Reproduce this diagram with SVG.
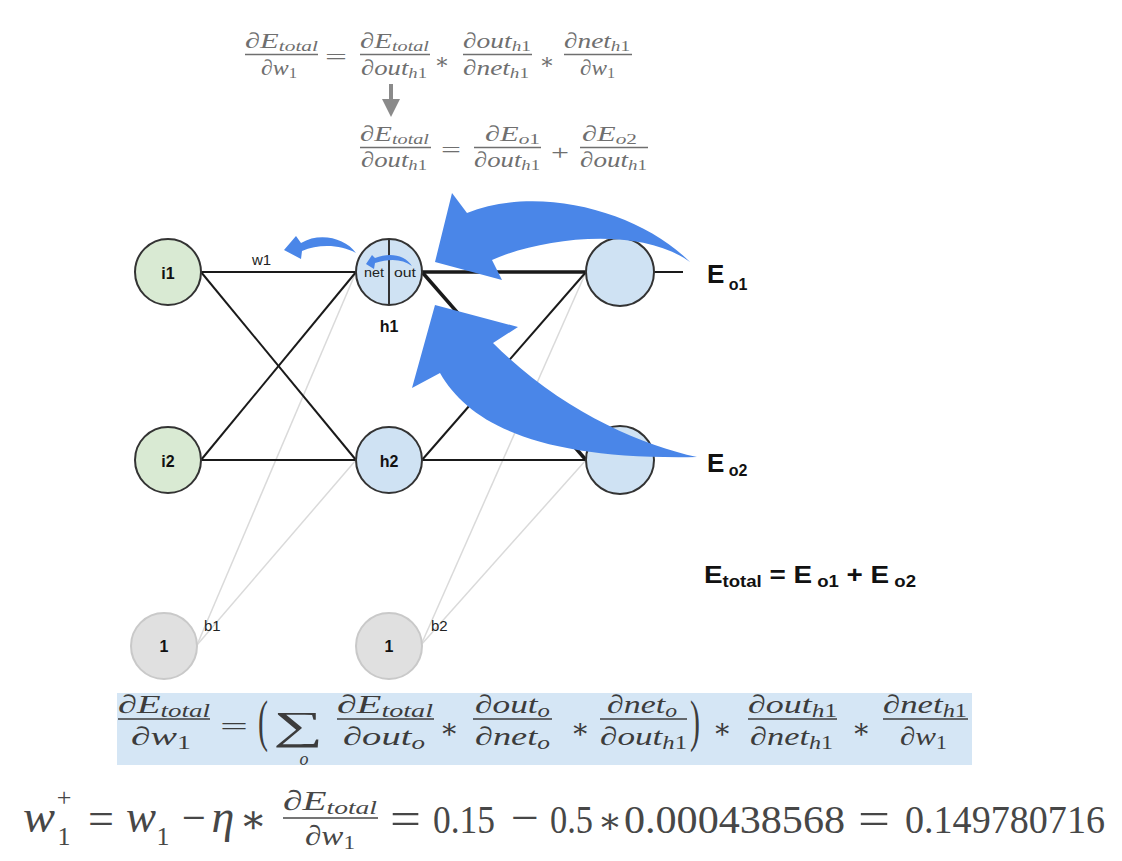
<svg xmlns="http://www.w3.org/2000/svg" width="1122" height="861" viewBox="0 0 1122 861">
<style>
.m{font-family:"Liberation Serif","DejaVu Serif",serif;font-style:italic}
.up{font-style:normal}
.t{fill:#6f6f6f;font-size:22px}
.b{fill:#3c3c3c;font-size:26px}
.z{fill:#474747;font-size:46px}
.d{font-size:40px;font-style:normal}
.s{font-size:70%}
.fl{stroke-width:1.3}
.lbl{font-family:"Liberation Sans",Arial,sans-serif;font-weight:bold;fill:#111}
.sm{font-family:"Liberation Sans",Arial,sans-serif;fill:#222}
.bias{stroke:#dadada;stroke-width:1.5}
.in{fill:#d9ead3;stroke:#333;stroke-width:2}
.hid{fill:#cfe2f3;stroke:#333;stroke-width:2}
.bn{fill:#e0e0e0;stroke:#c9c9c9;stroke-width:2}
.blue{fill:#4a86e8}
</style>

<!-- top formula -->
<g id="formula-top" class="m t">
  <g stroke="#6f6f6f" class="fl">
    <line x1="245" y1="54.5" x2="318" y2="54.5"/>
    <line x1="360" y1="54.5" x2="430" y2="54.5"/>
    <line x1="463" y1="54.5" x2="532" y2="54.5"/>
    <line x1="564" y1="54.5" x2="632" y2="54.5"/>
    <line x1="360" y1="147.5" x2="431" y2="147.5"/>
    <line x1="474" y1="147.5" x2="541" y2="147.5"/>
    <line x1="580" y1="147.5" x2="648" y2="147.5"/>
  </g>
  <text x="245" y="48" textLength="73" lengthAdjust="spacingAndGlyphs">∂E<tspan class="s" dy="3">total</tspan></text>
  <text x="261" y="75" textLength="36" lengthAdjust="spacingAndGlyphs">∂w<tspan class="s up" dy="3">1</tspan></text>
  <text x="325" y="64" class="up" textLength="22" lengthAdjust="spacingAndGlyphs">=</text>
  <text x="360" y="48" textLength="69" lengthAdjust="spacingAndGlyphs">∂E<tspan class="s" dy="3">total</tspan></text>
  <text x="361" y="75" textLength="66" lengthAdjust="spacingAndGlyphs">∂out<tspan class="s" dy="3">h<tspan class="up">1</tspan></tspan></text>
  <text x="442" y="69" class="up" text-anchor="middle">∗</text>
  <text x="463" y="48" textLength="68" lengthAdjust="spacingAndGlyphs">∂out<tspan class="s" dy="3">h<tspan class="up">1</tspan></tspan></text>
  <text x="463" y="75" textLength="66" lengthAdjust="spacingAndGlyphs">∂net<tspan class="s" dy="3">h<tspan class="up">1</tspan></tspan></text>
  <text x="547" y="69" class="up" text-anchor="middle">∗</text>
  <text x="564" y="48" textLength="66" lengthAdjust="spacingAndGlyphs">∂net<tspan class="s" dy="3">h<tspan class="up">1</tspan></tspan></text>
  <text x="580" y="75" textLength="35" lengthAdjust="spacingAndGlyphs">∂w<tspan class="s up" dy="3">1</tspan></text>

  <text x="360" y="141" textLength="69" lengthAdjust="spacingAndGlyphs">∂E<tspan class="s" dy="3">total</tspan></text>
  <text x="361" y="167" textLength="66" lengthAdjust="spacingAndGlyphs">∂out<tspan class="s" dy="3">h<tspan class="up">1</tspan></tspan></text>
  <text x="441" y="157" class="up" textLength="20" lengthAdjust="spacingAndGlyphs">=</text>
  <text x="485" y="141" textLength="55" lengthAdjust="spacingAndGlyphs">∂E<tspan class="s" dy="3">o<tspan class="up">1</tspan></tspan></text>
  <text x="474" y="167" textLength="66" lengthAdjust="spacingAndGlyphs">∂out<tspan class="s" dy="3">h<tspan class="up">1</tspan></tspan></text>
  <text x="551" y="160" class="up" textLength="18" lengthAdjust="spacingAndGlyphs">+</text>
  <text x="582" y="141" textLength="55" lengthAdjust="spacingAndGlyphs">∂E<tspan class="s" dy="3">o<tspan class="up">2</tspan></tspan></text>
  <text x="580" y="167" textLength="67" lengthAdjust="spacingAndGlyphs">∂out<tspan class="s" dy="3">h<tspan class="up">1</tspan></tspan></text>
  <g fill="#8a8a8a">
    <rect x="389" y="84" width="4" height="16"/>
    <polygon points="382,99 400,99 391,117"/>
  </g>
</g>

<!-- connectors -->
<g id="connectors" fill="none" stroke="#1a1a1a" stroke-width="2">
  <line class="bias" x1="197" y1="645" x2="356" y2="272"/>
  <line class="bias" x1="197" y1="645" x2="356" y2="460"/>
  <line class="bias" x1="421" y1="645" x2="586" y2="272"/>
  <line class="bias" x1="421" y1="645" x2="586" y2="460"/>
  <line x1="201" y1="272" x2="356" y2="272"/>
  <line x1="201" y1="272" x2="356" y2="460"/>
  <line x1="201" y1="460" x2="356" y2="272"/>
  <line x1="201" y1="460" x2="356" y2="460"/>
  <line x1="422" y1="272" x2="586" y2="272" stroke-width="3.5"/>
  <line x1="422" y1="272" x2="586" y2="460" stroke-width="3.5"/>
  <line x1="422" y1="460" x2="586" y2="272"/>
  <line x1="422" y1="460" x2="586" y2="460"/>
  <line x1="654" y1="272" x2="683" y2="272"/>
</g>

<!-- nodes -->
<g id="node-i1"><circle class="in" cx="168" cy="272" r="33"/><text class="lbl" x="168" y="279" font-size="16" text-anchor="middle">i1</text></g>
<g id="node-i2"><circle class="in" cx="168" cy="460" r="33"/><text class="lbl" x="168" y="467" font-size="16" text-anchor="middle">i2</text></g>
<g id="node-h1">
  <circle class="hid" cx="389" cy="272" r="33"/>
  <line x1="389" y1="239" x2="389" y2="305" stroke="#333" stroke-width="2"/>
  <text class="sm" x="364" y="277" font-size="12" textLength="20" lengthAdjust="spacingAndGlyphs" fill="#333">net</text>
  <text class="sm" x="394" y="277" font-size="12" textLength="22" lengthAdjust="spacingAndGlyphs" fill="#333">out</text>
  <text class="lbl" x="389" y="332" font-size="16" text-anchor="middle">h1</text>
</g>
<g id="node-h2"><circle class="hid" cx="389" cy="460" r="33"/><text class="lbl" x="389" y="467" font-size="16" text-anchor="middle">h2</text></g>
<g id="node-o1"><circle class="hid" cx="620" cy="272" r="34"/></g>
<g id="node-o2"><circle class="hid" cx="620" cy="460" r="34"/></g>
<g id="node-b1"><circle class="bn" cx="164" cy="646" r="33"/><text class="lbl" x="164" y="652" font-size="16" text-anchor="middle">1</text></g>
<g id="node-b2"><circle class="bn" cx="389" cy="646" r="33"/><text class="lbl" x="389" y="652" font-size="16" text-anchor="middle">1</text></g>

<!-- edge labels -->
<g id="labels">
  <text class="sm" x="252" y="265" font-size="15">w1</text>
  <text class="sm" x="204" y="631" font-size="15">b1</text>
  <text class="sm" x="431" y="631" font-size="15">b2</text>
  <text class="lbl" x="707" y="283" font-size="26">E<tspan font-size="16" dy="7"> o1</tspan></text>
  <text class="lbl" x="707" y="472" font-size="26">E<tspan font-size="16" dy="4"> o2</tspan></text>
  <text class="lbl" x="704" y="583" font-size="24" textLength="212" lengthAdjust="spacingAndGlyphs">E<tspan font-size="16" dy="4">total</tspan><tspan dy="-4"> = E</tspan><tspan font-size="16" dy="4"> o1</tspan><tspan dy="-4"> + E</tspan><tspan font-size="16" dy="4"> o2</tspan></text>
</g>

<!-- blue arrows -->
<g id="blue-arrows" class="blue">
  <path d="M690,262 C640,212 540,184 467,213 L452,193 L435,262 L502,280 L492,260 C540,238 640,225 690,262 Z"/>
  <path d="M697,457 C640,445 560,410 493,343 L518,327 L435,305 L412,388 L440,373 C470,425 540,460 697,457 Z"/>
  <path d="M356,253 C345,238 320,232 301,243 L296,236 L284,250 L301,259 L302,251 C318,244 340,244 356,253 Z"/>
  <path d="M412,266 C405,255 390,252 375,258 L372,255 L366,264 L374,269 L375,263 C390,258 403,259 412,266 Z"/>
</g>

<!-- boxed formula -->
<g id="formula-box">
  <rect x="117" y="693" width="855" height="72" fill="#d5e6f5"/>
  <g class="m b">
    <g stroke="#3c3c3c" class="fl">
      <line x1="118" y1="719" x2="210" y2="719"/>
      <line x1="337" y1="719" x2="434" y2="719"/>
      <line x1="473" y1="719" x2="552" y2="719"/>
      <line x1="600" y1="719" x2="687" y2="719"/>
      <line x1="748" y1="719" x2="837" y2="719"/>
      <line x1="883" y1="719" x2="968" y2="719"/>
    </g>
    <text x="118" y="713" textLength="92" lengthAdjust="spacingAndGlyphs">∂E<tspan class="s" dy="4">total</tspan></text>
    <text x="131" y="745" textLength="60" lengthAdjust="spacingAndGlyphs">∂w<tspan class="s up" dy="4">1</tspan></text>
    <text x="220" y="735" class="up" textLength="28" lengthAdjust="spacingAndGlyphs">=</text>
    <text class="up" font-size="30" transform="translate(258,740) scale(1,1.9)">(</text>
    <text x="273" y="739" class="up" font-size="40" textLength="50" lengthAdjust="spacingAndGlyphs">∑</text>
    <text x="304" y="765" font-size="18" text-anchor="middle">o</text>
    <text x="337" y="713" textLength="96" lengthAdjust="spacingAndGlyphs">∂E<tspan class="s" dy="4">total</tspan></text>
    <text x="343" y="745" textLength="82" lengthAdjust="spacingAndGlyphs">∂out<tspan class="s" dy="4">o</tspan></text>
    <text x="449" y="738" class="up" font-size="28" text-anchor="middle">∗</text>
    <text x="475" y="713" textLength="75" lengthAdjust="spacingAndGlyphs">∂out<tspan class="s" dy="4">o</tspan></text>
    <text x="475" y="745" textLength="75" lengthAdjust="spacingAndGlyphs">∂net<tspan class="s" dy="4">o</tspan></text>
    <text x="580" y="738" class="up" font-size="28" text-anchor="middle">∗</text>
    <text x="607" y="713" textLength="70" lengthAdjust="spacingAndGlyphs">∂net<tspan class="s" dy="4">o</tspan></text>
    <text x="600" y="745" textLength="87" lengthAdjust="spacingAndGlyphs">∂out<tspan class="s" dy="4">h<tspan class="up">1</tspan></tspan></text>
    <text class="up" font-size="30" transform="translate(690,740) scale(1,1.9)">)</text>
    <text x="722" y="738" class="up" font-size="28" text-anchor="middle">∗</text>
    <text x="748" y="713" textLength="89" lengthAdjust="spacingAndGlyphs">∂out<tspan class="s" dy="4">h<tspan class="up">1</tspan></tspan></text>
    <text x="750" y="745" textLength="83" lengthAdjust="spacingAndGlyphs">∂net<tspan class="s" dy="4">h<tspan class="up">1</tspan></tspan></text>
    <text x="861" y="738" class="up" font-size="28" text-anchor="middle">∗</text>
    <text x="883" y="713" textLength="84" lengthAdjust="spacingAndGlyphs">∂net<tspan class="s" dy="4">h<tspan class="up">1</tspan></tspan></text>
    <text x="900" y="745" textLength="47" lengthAdjust="spacingAndGlyphs">∂w<tspan class="s up" dy="4">1</tspan></text>
  </g>
</g>

<!-- update formula -->
<g id="formula-update" class="m z">
  <text x="23" y="832" textLength="32" lengthAdjust="spacingAndGlyphs">w</text>
  <text x="64" y="806" class="up" font-size="26" text-anchor="middle">+</text>
  <text x="64" y="845" class="up" font-size="26" text-anchor="middle">1</text>
  <text x="88" y="834" class="up" textLength="26" lengthAdjust="spacingAndGlyphs">=</text>
  <text x="126" y="832" textLength="30" lengthAdjust="spacingAndGlyphs">w</text>
  <text x="163" y="845" class="up" font-size="26" text-anchor="middle">1</text>
  <text x="182" y="833" class="up" textLength="24" lengthAdjust="spacingAndGlyphs">−</text>
  <text x="223" y="832" text-anchor="middle">η</text>
  <text x="253" y="833" class="up" font-size="40" text-anchor="middle">∗</text>
  <line x1="283" y1="818" x2="378" y2="818" stroke="#474747" stroke-width="1.5"/>
  <text x="283" y="810" font-size="28" textLength="94" lengthAdjust="spacingAndGlyphs">∂E<tspan class="s" dy="4">total</tspan></text>
  <text x="305" y="845" font-size="28" textLength="50" lengthAdjust="spacingAndGlyphs">∂w<tspan class="s up" dy="4">1</tspan></text>
  <text x="390" y="834" class="up" textLength="31" lengthAdjust="spacingAndGlyphs">=</text>
  <text x="433" y="833" class="d" textLength="62" lengthAdjust="spacingAndGlyphs">0.15</text>
  <text x="511" y="833" class="up" textLength="28" lengthAdjust="spacingAndGlyphs">−</text>
  <text x="550" y="833" class="d" textLength="43" lengthAdjust="spacingAndGlyphs">0.5</text>
  <text x="610" y="833" class="up" font-size="36" text-anchor="middle">∗</text>
  <text x="624" y="833" class="d" textLength="221" lengthAdjust="spacingAndGlyphs">0.000438568</text>
  <text x="858" y="834" class="up" textLength="32" lengthAdjust="spacingAndGlyphs">=</text>
  <text x="905" y="833" class="d" textLength="200" lengthAdjust="spacingAndGlyphs">0.149780716</text>
</g>
</svg>
